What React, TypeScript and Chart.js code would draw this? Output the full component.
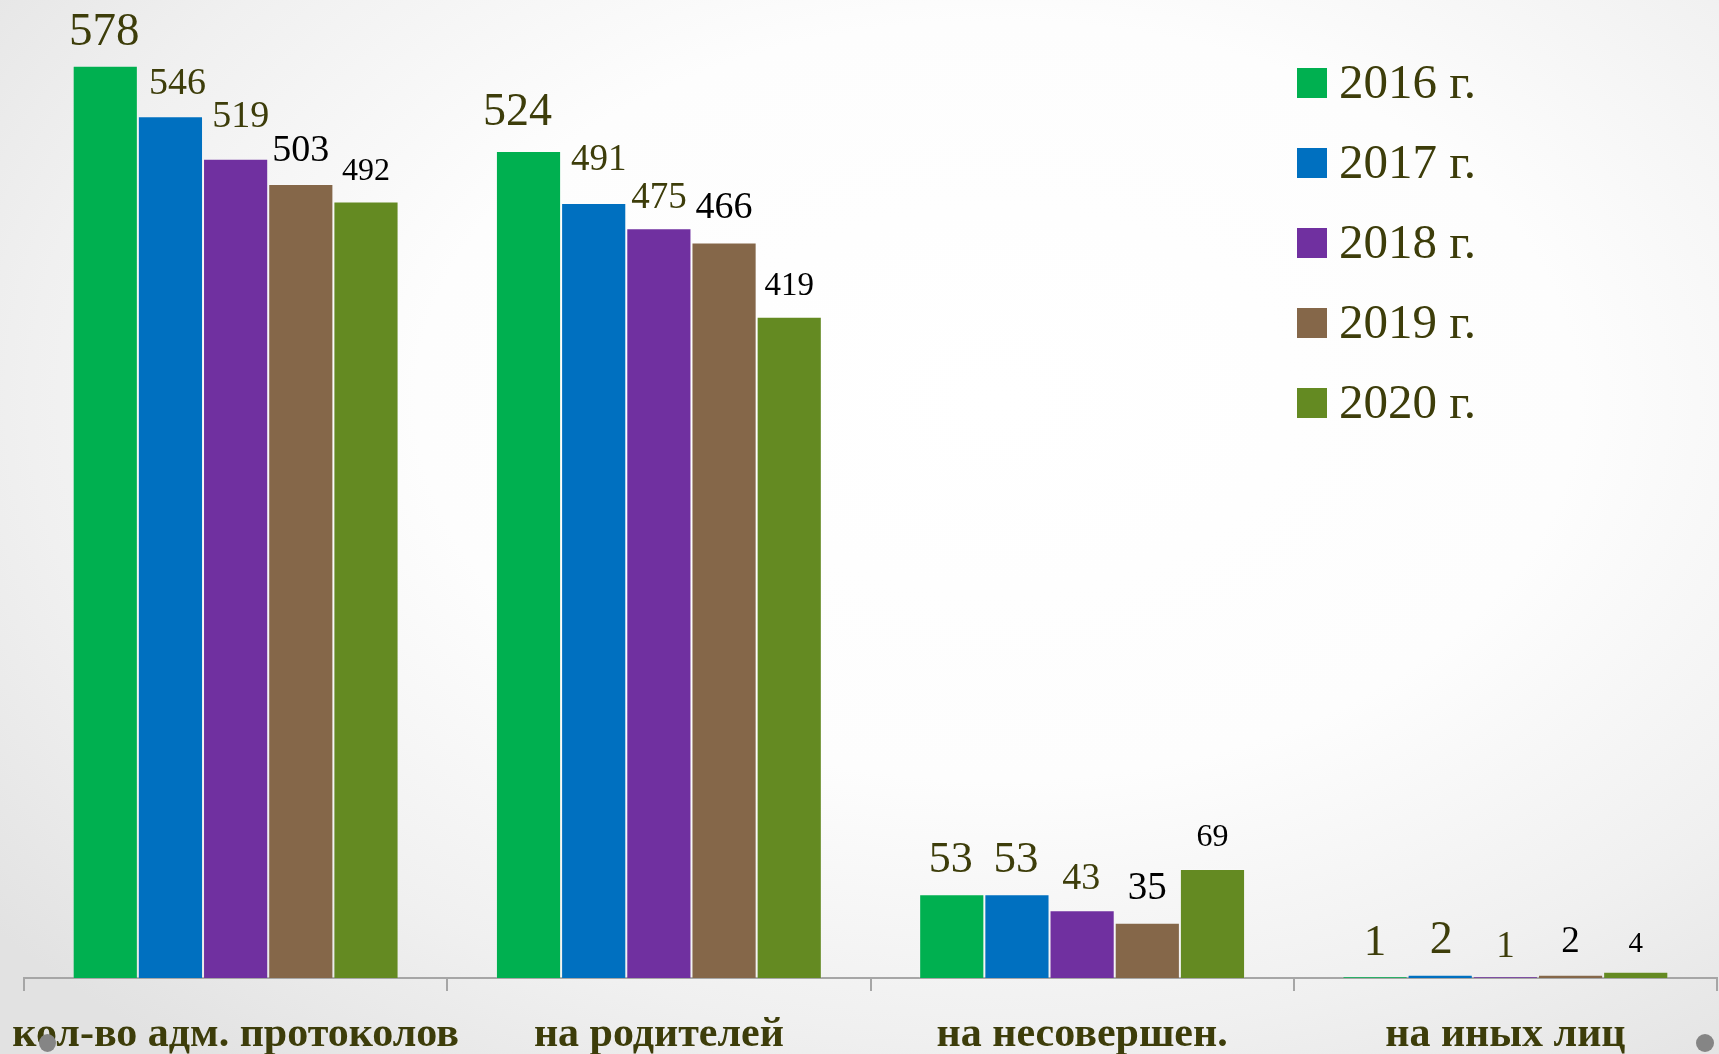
import React, { useEffect, useRef } from "react";
import { Chart, registerables } from "chart.js";

Chart.register(...registerables);

const CATEGORIES = ["кол-во адм. протоколов", "на родителей", "на несовершен.", "на иных лиц"];
const YEARS = ["2016 г.", "2017 г.", "2018 г.", "2019 г.", "2020 г."];
const V2016 = [578, 524, 53, 1];
const V2017 = [546, 491, 53, 2];
const V2018 = [519, 475, 43, 1];
const V2019 = [503, 466, 35, 2];
const V2020 = [492, 419, 69, 4];
const SERIES = [V2016, V2017, V2018, V2019, V2020];

const COLORS = ["#00B050", "#0070C0", "#7030A0", "#856749", "#648A22"];
const LABEL_COLORS = ["#3d3d0a", "#3d3d0a", "#3d3d0a", "#000000", "#000000"];
const LABEL_SIZE = [
  [47, 46, 44, 45],
  [38, 37, 45, 46],
  [38, 37, 38, 37],
  [38, 38, 39, 37],
  [32, 33, 32, 29],
];
const LABEL_LIFT = [
  [21, 26, 22, 21],
  [22, 33, 22, 22],
  [32, 20, 21, 19],
  [23, 24, 24, 23],
  [21, 22, 23, 20],
];
const LABEL_DX = [
  [-1, -11, -1, 0],
  [7, 5, -1, 1],
  [5, 0, -1, 0],
  [0, 0, 0, 0],
  [0, 0, 0, 0],
];

const SERIF = "'Liberation Serif', 'Times New Roman', serif";
const TEXT_COLOR = "#3d3d0a";

const valueLabels = {
  id: "valueLabels",
  afterDatasetsDraw(chart: any) {
    const ctx = chart.ctx;
    ctx.save();
    ctx.textAlign = "center";
    ctx.textBaseline = "alphabetic";
    chart.data.datasets.forEach((ds: any, di: number) => {
      const meta = chart.getDatasetMeta(di);
      meta.data.forEach((bar: any, i: number) => {
        ctx.font = `${LABEL_SIZE[di][i]}px ${SERIF}`;
        ctx.fillStyle = LABEL_COLORS[di];
        ctx.fillText(String(ds.data[i]), bar.x + LABEL_DX[di][i], bar.y - LABEL_LIFT[di][i]);
      });
    });
    ctx.restore();
  },
};

const sideLegend = {
  id: "sideLegend",
  afterDraw(chart: any) {
    const ctx = chart.ctx;
    ctx.save();
    ctx.textAlign = "left";
    ctx.textBaseline = "middle";
    ctx.font = `49px ${SERIF}`;
    chart.data.datasets.forEach((ds: any, i: number) => {
      const top = 68 + i * 80;
      ctx.fillStyle = ds.backgroundColor;
      ctx.fillRect(1297, top, 30, 30);
      ctx.fillStyle = TEXT_COLOR;
      ctx.fillText(ds.label, 1339, top + 17);
    });
    ctx.restore();
  },
};

export default function App() {
  const ref = useRef<HTMLCanvasElement | null>(null);

  useEffect(() => {
    if (!ref.current) return;
    const chart = new Chart(ref.current, {
      type: "bar",
      data: {
        labels: CATEGORIES,
        datasets: SERIES.map((d, i) => ({
          label: YEARS[i],
          data: d,
          backgroundColor: COLORS[i],
          borderColor: "rgba(255,255,255,0.18)",
          borderWidth: 1,
          categoryPercentage: 0.77,
          barPercentage: 1.0,
        })),
      },
      options: {
        responsive: false,
        animation: false,
        layout: { padding: { left: 24, right: 2, top: 31, bottom: 0 } },
        plugins: {
          legend: { display: false },
          tooltip: { enabled: false },
        },
        scales: {
          x: {
            afterFit: (scale: any) => {
              scale.height = 76;
              scale.paddingLeft = 0;
              scale.paddingRight = 0;
            },
            grid: {
              offset: true,
              drawOnChartArea: false,
              drawTicks: true,
              tickLength: 13,
              color: "#a6a6a6",
              lineWidth: 2,
            },
            border: { display: true, color: "#a6a6a6", width: 2 },
            ticks: {
              color: TEXT_COLOR,
              padding: 19,
              maxRotation: 0,
              autoSkip: false,
              font: { family: SERIF, size: 42, weight: "bold" },
            },
          },
          y: {
            display: false,
            min: 0,
            max: 600,
          },
        },
      },
      plugins: [valueLabels, sideLegend],
    });
    return () => chart.destroy();
  }, []);

  return (
    <div
      style={{
        position: "fixed",
        left: 0,
        top: 0,
        width: 1719,
        height: 1054,
        overflow: "hidden",
        background:
          "radial-gradient(ellipse 75% 80% at 58% 38%, #ffffff 0%, #fdfdfd 45%, #f0f0f0 75%, #e2e2e2 100%)",
      }}
    >
      <canvas ref={ref} width={1719} height={1054} style={{ display: "block", width: 1719, height: 1054 }} />
      <div style={{ position: "absolute", left: 39, top: 1034, width: 17, height: 18, borderRadius: "50%", background: "#858585" }} />
      <div style={{ position: "absolute", left: 1696, top: 1034, width: 18, height: 18, borderRadius: "50%", background: "#858585" }} />
    </div>
  );
}
